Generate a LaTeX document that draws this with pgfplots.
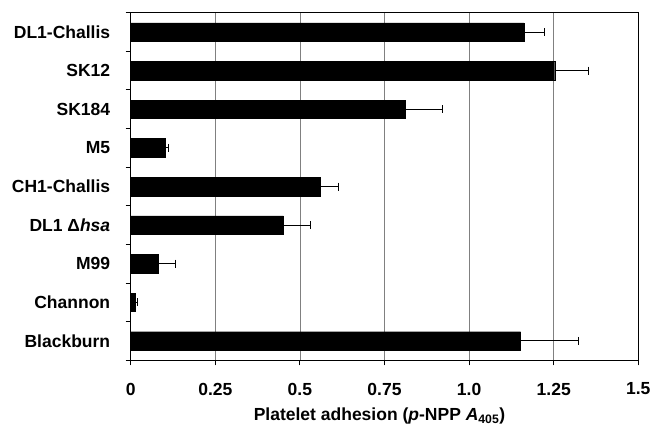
\documentclass[border=0pt]{standalone}
\usepackage{pgfplots}
\pgfplotsset{compat=1.18}
\usepackage{fontspec}
\setmainfont{Liberation Sans}
\newcommand{\lf}{\fontsize{17.5}{20}\selectfont\bfseries}
\begin{document}
\begin{tikzpicture}
\begin{axis}[
  name=ax, at={(0,0)}, anchor=south west,
  scale only axis, width=507.6pt, height=347.6pt,
  xbar, bar width=18.5pt,
  xmin=0, xmax=1.5, ymin=-0.5, ymax=8.5, y dir=reverse,
  axis line style={line width=0.9pt},
  xtick={0,0.25,0.5,0.75,1,1.25,1.5},
  xticklabels={0,0.25,0.5,0.75,1.0,1.25,1.5},
  xtick pos=bottom, ytick pos=left,
  tick align=outside, major tick length=5pt, minor tick length=5pt,
  tick style={black, line width=0.9pt},
  xmajorgrids, grid style={gray, line width=0.7pt},
  ytick={0,1,2,3,4,5,6,7,8},
  yticklabels={DL1-Challis\hspace{3.3pt}, SK12\hspace{6pt}, SK184\hspace{11pt}, M5\hspace{9.3pt}, CH1-Challis\hspace{3.3pt}, DL1 Δ\textit{hsa}\hspace{10.3pt}, M99\hspace{9.3pt}, Channon\hspace{2pt}, Blackburn},
  minor ytick={-0.5,0.5,1.5,2.5,3.5,4.5,5.5,6.5,7.5,8.5},
  major y tick style={draw=none},
  every tick label/.append style={font=\lf},
  xticklabel style={yshift=-14pt},
  yticklabel style={xshift=-12pt},
  xlabel={Platelet adhesion (\textit{p}-NPP \textit{A}\textsubscript{405})},
  xlabel style={font=\lf, at={(axis description cs:0.5,0)}, anchor=north, yshift=-44pt, xshift=-5pt},
]
\addplot[fill=black, draw=black, error bars/.cd, x dir=plus, x explicit,
  error mark=|,
  error bar style={line width=1pt, black}, error mark options={line width=1pt, mark size=4pt, black}]
coordinates {
(1.162,0) +- (0.060,0)
(1.253,1) +- (0.100,0)
(0.812,2) +- (0.110,0)
(0.101,3) +- (0.011,0)
(0.561,4) +- (0.052,0)
(0.451,5) +- (0.079,0)
(0.080,6) +- (0.051,0)
(0.012,7) +- (0.009,0)
(1.152,8) +- (0.172,0)
};
\end{axis}
\pgfresetboundingbox
\path ([shift={(-130.7pt,-66.7pt)}]ax.south west) rectangle ([shift={(15.7pt,12.7pt)}]ax.north east);
\end{tikzpicture}
\end{document}
